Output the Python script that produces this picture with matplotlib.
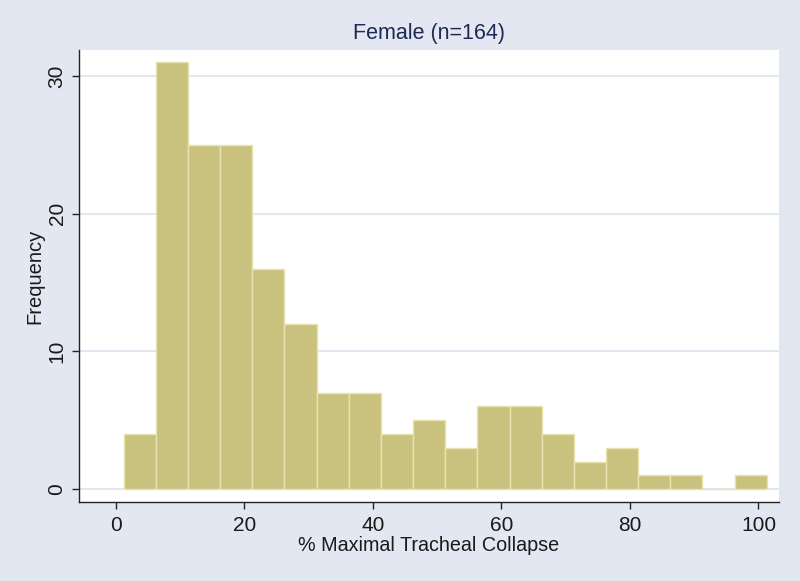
import matplotlib
matplotlib.use("Agg")
import matplotlib.pyplot as plt
import numpy as np

plt.rcParams['font.family'] = ['Liberation Sans', 'DejaVu Sans']

# Histogram data
bin_start = 1.2
bin_width = 5.005
counts = [4, 31, 25, 25, 16, 12, 7, 7, 4, 5, 3, 6, 6, 4, 2, 3, 1, 1, 0, 1]
x_ticks = [0, 20, 40, 60, 80, 100]
y_ticks = [0, 10, 20, 30]
title = "Female (n=164)"
xlabel = "% Maximal Tracheal Collapse"
ylabel = "Frequency"

bg = "#E2E7F1"
bar_color = "#C9C27F"
edge_color = "#E8E2AE"
grid_color = "#DCE3EF"
text_color = "#1a1a1a"

fig = plt.figure(figsize=(8, 5.81), dpi=100, facecolor=bg)
ax = fig.add_axes([79/800, 1 - 502/581, 700/800, 452/581])
ax.set_facecolor("white")

edges = bin_start + bin_width * np.arange(len(counts) + 1)
ax.bar(edges[:-1], counts, width=bin_width, align='edge',
       color=bar_color, edgecolor=edge_color, linewidth=1.0, zorder=3)

ax.set_xlim(-5.76, 103.2)
ax.set_ylim(-0.94, 31.9)
ax.set_xticks(x_ticks)
ax.set_yticks(y_ticks)
for y in y_ticks:
    ax.axhline(y, color=grid_color, linewidth=1.2, zorder=1)

for s in ['top', 'right']:
    ax.spines[s].set_visible(False)
for s in ['left', 'bottom']:
    ax.spines[s].set_color('#222222')
    ax.spines[s].set_linewidth(1.0)

ax.tick_params(axis='both', colors='#222222', labelcolor=text_color,
               labelsize=15, length=5, width=1, pad=5)
ax.tick_params(axis='y', labelrotation=90, pad=4)
for lab in ax.get_yticklabels():
    lab.set_verticalalignment('center')

ax.set_xlabel(xlabel, fontsize=14.2, color=text_color, labelpad=1)
ax.set_ylabel(ylabel, fontsize=14.5, color=text_color, labelpad=2)
fig.text(429/800, 1 - 34/581, title, ha='center', va='center',
         fontsize=15.5, color="#1E2A55")

fig.savefig("out.png", dpi=100, facecolor=bg)
